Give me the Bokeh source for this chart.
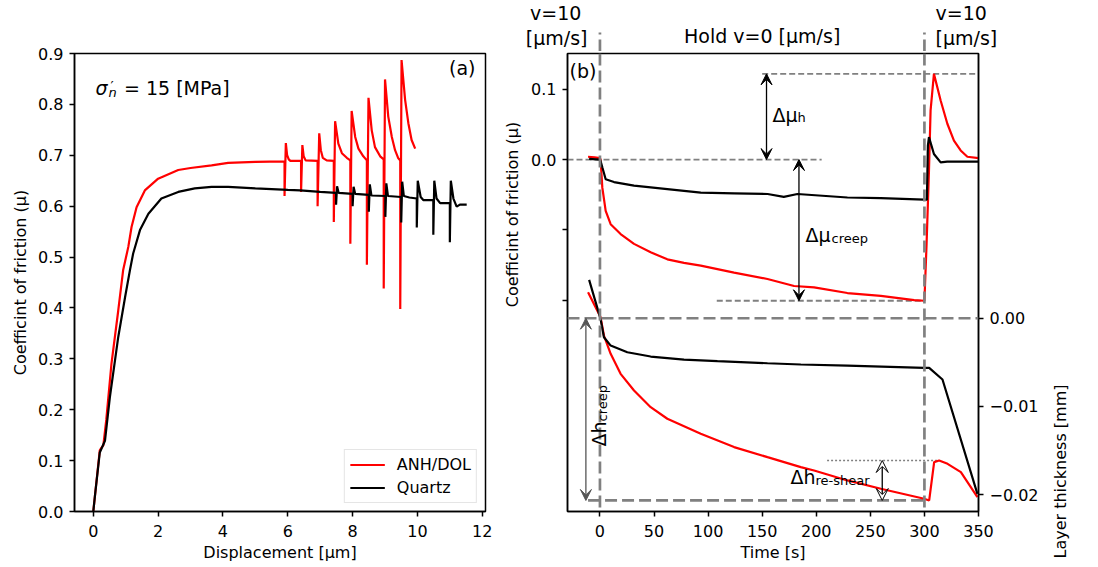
import math
from bokeh.plotting import figure
from bokeh.models import Range1d, LinearAxis, FixedTicker, Span, Label, Arrow, VeeHead
from bokeh.layouts import row, column
from bokeh.embed import file_html
from bokeh.resources import INLINE

FONT = "DejaVu Sans"
GRAY = "#808080"

# ---------------- panel (a): friction vs displacement ----------------
anh_disp = [0.0, 0.1, 0.2, 0.25, 0.31, 0.4, 0.56, 0.77, 0.92, 1.08, 1.18, 1.335, 1.59, 2.0, 2.62, 3.0, 3.65, 4.16, 5.0, 5.9,
            5.9, 5.94, 5.98, 6.03, 6.08, 6.41,
            6.41, 6.45, 6.49, 6.55, 6.92,
            6.92, 6.97, 7.02, 7.08, 7.2, 7.42,
            7.42, 7.46, 7.56, 7.67, 7.82, 7.93,
            7.93, 7.97, 8.08, 8.18, 8.33, 8.44,
            8.44, 8.49, 8.59, 8.69, 8.85, 8.96,
            8.96, 9.0, 9.1, 9.21, 9.31, 9.41, 9.47,
            9.47, 9.51, 9.62, 9.72, 9.82, 9.93]
anh_mu = [0.0, 0.06, 0.12, 0.125, 0.13, 0.18, 0.29, 0.395, 0.474, 0.52, 0.559, 0.598, 0.631, 0.654, 0.671, 0.675, 0.680, 0.685, 0.687, 0.688,
          0.620, 0.724, 0.700, 0.692, 0.689, 0.689,
          0.628, 0.720, 0.698, 0.690, 0.689,
          0.600, 0.743, 0.710, 0.695, 0.690, 0.689,
          0.569, 0.767, 0.723, 0.704, 0.695, 0.690,
          0.526, 0.787, 0.736, 0.713, 0.698, 0.690,
          0.485, 0.813, 0.749, 0.716, 0.698, 0.692,
          0.438, 0.849, 0.776, 0.736, 0.710, 0.694, 0.690,
          0.398, 0.887, 0.809, 0.763, 0.730, 0.713]

qtz_disp = [0.0, 0.05, 0.2, 0.36, 0.51, 0.77, 0.98, 1.13, 1.23, 1.44, 1.70, 2.1, 2.62, 3.13, 3.65, 4.16, 5.0, 6.0, 6.38, 7.0, 7.49,
            7.49, 7.52, 7.57, 8.0,
            8.0, 8.03, 8.08, 8.5,
            8.5, 8.53, 8.58, 9.01,
            9.01, 9.04, 9.09, 9.5,
            9.5, 9.53, 9.58, 9.75, 9.98,
            9.98, 10.01, 10.1, 10.18, 10.49,
            10.49, 10.52, 10.59, 10.7, 11.0,
            11.0, 11.03, 11.11, 11.21, 11.31, 11.52]
qtz_mu = [0.0, 0.03, 0.116, 0.139, 0.224, 0.343, 0.421, 0.474, 0.507, 0.553, 0.585, 0.615, 0.628, 0.635, 0.638, 0.638, 0.635, 0.632, 0.631, 0.628, 0.626,
          0.603, 0.639, 0.626, 0.624,
          0.600, 0.638, 0.624, 0.622,
          0.589, 0.643, 0.621, 0.620,
          0.579, 0.645, 0.620, 0.618,
          0.568, 0.648, 0.620, 0.617, 0.615,
          0.558, 0.650, 0.618, 0.612, 0.612,
          0.544, 0.650, 0.615, 0.606, 0.606,
          0.529, 0.650, 0.615, 0.599, 0.603, 0.603]

disp_ticks = [0, 2, 4, 6, 8, 10, 12]
mu_ticks_a = [0.0, 0.1, 0.2, 0.3, 0.4, 0.5, 0.6, 0.7, 0.8, 0.9]

# ---------------- panel (b): slide-hold-slide ----------------
hold_bounds = [0, 300]

t_mu_anh = [-11, -5, 0, 0.6, 2.2, 5.3, 9.9, 19.1, 31.5, 46.9, 62.3, 77.7, 93.2, 124, 154.9, 179.5, 198, 228.8, 259.7, 290.6,
            300, 302, 304.2, 305.7, 308.8, 315, 321.2, 327.3, 333.5, 339.7, 350]
dmu_anh = [0.004, 0.003, 0.002, 0.0, -0.040, -0.073, -0.092, -0.106, -0.120, -0.132, -0.142, -0.147, -0.151, -0.161, -0.170, -0.180, -0.182, -0.190, -0.194, -0.200,
           -0.201, -0.120, -0.016, 0.070, 0.122, 0.084, 0.051, 0.027, 0.013, 0.004, 0.002]

t_mu_qtz = [-10, 0, 0.6, 2.2, 5.3, 13, 31.5, 62.3, 93.2, 124, 155, 170, 182.6, 228.8, 259.7, 299.8,
            302.3, 303.2, 304.2, 308.8, 315, 321, 350]
dmu_qtz = [0.001, 0.0, -0.002, -0.011, -0.028, -0.032, -0.037, -0.042, -0.047, -0.048, -0.049, -0.053, -0.049, -0.054, -0.055, -0.057,
           -0.057, 0.020, 0.032, 0.008, -0.004, -0.003, -0.003]

t_h_anh = [-11, 0.6, 3.7, 9.9, 19.1, 31.5, 46.9, 62.3, 93.2, 124, 154.9, 185.7, 198, 228.8, 259.7, 299.8, 304.4, 309, 313.6, 321.4, 333.7, 349]
h_anh = [0.00294, 0.0001, -0.00196, -0.00403, -0.0063, -0.00819, -0.01008, -0.01139, -0.01309, -0.0146, -0.01574, -0.01687, -0.01725,
         -0.01838, -0.01932, -0.02045, -0.02065, -0.0163, -0.01612, -0.0165, -0.01744, -0.02027]

t_h_qtz = [-10, 0.6, 3.7, 9.9, 25.3, 46.9, 77.7, 108.6, 154.9, 185.7, 228.8, 299.8, 304.4, 316.7, 349]
h_qtz = [0.00435, -0.0001, -0.00215, -0.0031, -0.00385, -0.00434, -0.00468, -0.00487, -0.0051, -0.00524, -0.00536, -0.00562,
         -0.00562, -0.00694, -0.0199]

time_ticks = [0, 50, 100, 150, 200, 250, 300, 350]
mu_ticks_b = [-0.2, -0.1, 0.0, 0.1]
h_ticks = [-0.02, -0.01, 0.0]

phase_side_text = ["v=10\u00a0", "[\u00b5m/s]"]
phase_hold_text = "Hold v=0 [\u00b5m/s]"

mu_peak = max(dmu_anh)
mu_low = min(dmu_anh)
h_low = min(h_anh)
h_reshear = max(h for t, h in zip(t_h_anh, h_anh) if t > 305)

T_START, T_END = -30, 350
LB = 45        # left border of panel (b) and its strip
SHIFT = 7      # correction of the alphabetic-baseline placement


def style_axes(p):
    p.grid.visible = False
    p.outline_line_color = "black"
    p.outline_line_width = 1.5
    p.border_fill_color = "white"
    p.background_fill_color = "white"
    for ax in p.axis:
        ax.axis_line_width = 1.5
        ax.axis_line_color = "black"
        ax.major_tick_out = 5
        ax.major_tick_in = 0
        ax.major_tick_line_width = 1.5
        ax.minor_tick_out = 0
        ax.minor_tick_in = 0
        ax.major_label_standoff = 6
        ax.major_label_text_font = FONT
        ax.major_label_text_font_size = "16px"
        ax.major_label_text_color = "black"
        ax.axis_label_text_font = FONT
        ax.axis_label_text_font_size = "16px"
        ax.axis_label_text_font_style = "normal"
        ax.axis_label_text_color = "black"
        ax.axis_label_standoff = 3
    for ax in p.xaxis:
        ax.major_label_standoff = 8


def lab(p, text, dx, dy, size="19px", angle=0.0, align="left", style="normal", color="black"):
    # dx, dy: pixel offsets of the text baseline start from the frame's top-left corner (dy downwards)
    if angle:
        dx -= SHIFT
    else:
        dy -= SHIFT
    p.add_layout(Label(x=p.x_range.start, y=p.y_range.end, x_offset=dx, y_offset=-dy, text=text,
                       text_font=FONT, text_font_size=size, text_align=align, text_baseline="alphabetic",
                       text_font_style=style, text_color=color, angle=angle))


def blank(p):
    p.outline_line_color = None
    p.border_fill_color = "white"
    p.background_fill_color = "white"
    p.grid.visible = False


# ---------------- figure (a) ----------------
p1 = figure(frame_width=411, frame_height=458, min_border_left=74, min_border_right=15,
            min_border_top=53, min_border_bottom=48,
            x_range=Range1d(-0.58, 12.1), y_range=Range1d(0, 0.9),
            output_backend="svg", toolbar_location=None)
p1.line(anh_disp, anh_mu, line_color="#ff0000", line_width=2.2, legend_label="ANH/DOL")
p1.line(qtz_disp, qtz_mu, line_color="black", line_width=2.2, legend_label="Quartz")
style_axes(p1)
p1.xaxis.ticker = FixedTicker(ticks=disp_ticks)
p1.yaxis.ticker = FixedTicker(ticks=mu_ticks_a)
p1.yaxis.major_label_overrides = {t: f"{t:.1f}" for t in mu_ticks_a}
p1.xaxis.axis_label = "Displacement [\u03bcm]"
p1.yaxis.axis_label = "Coefficint of friction (\u03bc)"
p1.yaxis.axis_label_standoff = 5

lg = p1.legend[0]
lg.location = "bottom_right"
lg.margin = 8
lg.padding = 5
lg.spacing = 4
lg.glyph_width = 35
lg.glyph_height = 19
lg.label_height = 19
lg.label_standoff = 12
lg.label_text_font = FONT
lg.label_text_font_size = "16px"
lg.label_text_color = "black"
lg.border_line_color = "#cccccc"
lg.border_line_width = 1
lg.background_fill_alpha = 0.8

lab(p1, "(a)", 401, 21.5, align="right")
lab(p1, "\u03c3", 21, 41.5, style="italic")
lab(p1, "\u2032", 36, 39, size="14px")
lab(p1, "n", 34, 46, size="13px", style="italic")
lab(p1, "= 15 [MPa]", 49.5, 41.5)

# ---------------- strip left of (b): its friction axis title ----------------
pL = figure(frame_width=22, frame_height=560, min_border_left=0, min_border_right=0,
            min_border_top=0, min_border_bottom=0,
            x_range=Range1d(0, 22), y_range=Range1d(0, 560),
            x_axis_location=None, y_axis_location=None,
            output_backend="svg", toolbar_location=None)
blank(pL)
pL.add_layout(Label(x=11.5, y=560 - 161, text="Coefficint of friction (\u03bc)", text_font=FONT,
                    text_font_size="16px", text_align="center", text_baseline="middle",
                    angle=math.pi / 2, text_color="black"))

# ---------------- figure (b) ----------------
p2 = figure(frame_width=411, frame_height=458, min_border_left=LB, min_border_right=67,
            min_border_top=2, min_border_bottom=48,
            x_range=Range1d(T_START, T_END), y_range=Range1d(-0.501, 0.151),
            output_backend="svg", toolbar_location=None)
p2.extra_y_ranges = {"thick": Range1d(-0.0219, 0.0300)}
p2.add_layout(LinearAxis(y_range_name="thick"), "right")
style_axes(p2)
p2.xaxis.ticker = FixedTicker(ticks=time_ticks)
p2.xaxis.axis_label = "Time [s]"
left_ax = p2.yaxis[0]
right_ax = p2.yaxis[1]
left_ax.ticker = FixedTicker(ticks=mu_ticks_b)
left_ax.major_label_overrides = {-0.2: "", -0.1: "", 0.0: "0.0", 0.1: "0.1"}
right_ax.ticker = FixedTicker(ticks=h_ticks)
right_ax.major_label_overrides = {0.0: "0.00", -0.01: "\u22120.01", -0.02: "\u22120.02"}

# reference lines
for tb in hold_bounds:
    p2.add_layout(Span(location=tb, dimension="height", line_color=GRAY, line_width=2.7, line_dash="12 5"))
p2.add_layout(Span(location=0.0, dimension="width", y_range_name="thick", line_color=GRAY, line_width=2.7, line_dash="12 5"))
p2.line([150, 350], [mu_peak, mu_peak], line_color=GRAY, line_width=1.8, line_dash="6 3")
p2.line([-30, 205], [0.0, 0.0], line_color=GRAY, line_width=1.8, line_dash="6 3")
p2.line([108, 300], [mu_low, mu_low], line_color=GRAY, line_width=1.8, line_dash="6 3")
p2.line([-11, 303], [h_low, h_low], y_range_name="thick", line_color=GRAY, line_width=2.7, line_dash="12 5")
p2.line([210, 313], [h_reshear, h_reshear], y_range_name="thick", line_color=GRAY, line_width=1.6, line_dash="2 2")

# curves
p2.line(t_mu_anh, dmu_anh, line_color="#ff0000", line_width=2.2)
p2.line(t_mu_qtz, dmu_qtz, line_color="black", line_width=2.2)
p2.line(t_h_anh, h_anh, y_range_name="thick", line_color="#ff0000", line_width=2.2)
p2.line(t_h_qtz, h_qtz, y_range_name="thick", line_color="black", line_width=2.2)


def head(fill="black", color="black", size=11):
    return VeeHead(size=size, fill_color=fill, line_color=color, line_width=1)


p2.add_layout(Arrow(x_start=154, y_start=mu_peak, x_end=154, y_end=0.0, start=head(), end=head(),
                    line_color="black", line_width=1.3))
p2.add_layout(Arrow(x_start=184, y_start=0.0, x_end=184, y_end=mu_low, start=head(), end=head(),
                    line_color="black", line_width=1.3))
p2.add_layout(Arrow(x_start=-13, y_start=0.0, x_end=-13, y_end=h_low, y_range_name="thick",
                    start=head("#555555", "#555555"), end=head("#555555", "#555555"),
                    line_color="#555555", line_width=1.3))
p2.add_layout(Arrow(x_start=261, y_start=h_reshear, x_end=261, y_end=h_low, y_range_name="thick",
                    start=head("white", "black", 12), end=head("white", "black", 12),
                    line_color="black", line_width=1.3))

# texts inside the frame
lab(p2, "(b)", 2, 24)
lab(p2, "\u0394\u03bc", 205, 68.7)
lab(p2, "h", 230, 71, size="13px")
lab(p2, "\u0394\u03bc", 238, 188.7)
lab(p2, "creep", 264, 192, size="13px")
lab(p2, "\u0394h", 38, 393, angle=math.pi / 2)
lab(p2, "creep", 42, 368, size="13px", angle=math.pi / 2)
lab(p2, "\u0394h", 223, 430)
lab(p2, "re-shear", 248, 434, size="13px")

# ---------------- strip above (b): phase labels ----------------
# frame aligned with (b); the two velocity labels are the tick labels of two bare axes
p0 = figure(frame_width=411, frame_height=51, min_border_left=LB, min_border_right=67,
            min_border_top=0, min_border_bottom=0,
            x_range=p2.x_range, y_range=Range1d(0, 51),
            x_axis_location=None, y_axis_location="left",
            output_backend="svg", toolbar_location=None)
p0.add_layout(LinearAxis(), "right")
blank(p0)
side_ticks = [38.5, 14.0]   # vertical centres of the two text lines (px from bottom of strip)
for ax, standoff in ((p0.yaxis[0], -20), (p0.yaxis[1], -43)):
    ax.ticker = FixedTicker(ticks=side_ticks)
    ax.major_label_overrides = {side_ticks[0]: phase_side_text[0], side_ticks[1]: phase_side_text[1]}
    ax.axis_line_color = None
    ax.major_tick_line_color = None
    ax.minor_tick_line_color = None
    ax.major_tick_out = 0
    ax.major_tick_in = 0
    ax.major_label_standoff = standoff
    ax.major_label_text_font = FONT
    ax.major_label_text_font_size = "19px"
    ax.major_label_text_color = "black"
p0.segment(x0=hold_bounds, y0=[0, 0], x1=hold_bounds, y1=[19, 19], line_color=GRAY, line_width=2.7, line_dash="12 5")
p0.add_layout(Label(x=(hold_bounds[0] + hold_bounds[1]) / 2, y=8.5 + SHIFT, text=phase_hold_text, text_font=FONT,
                    text_font_size="19px", text_align="center", text_baseline="alphabetic", text_color="black"))

# ---------------- strip right of (b): thickness axis title ----------------
pR = figure(frame_width=40, frame_height=560, min_border_left=0, min_border_right=0,
            min_border_top=0, min_border_bottom=0,
            x_range=Range1d(0, 40), y_range=Range1d(0, 560),
            x_axis_location=None, y_axis_location=None,
            output_backend="svg", toolbar_location=None)
blank(pR)
pR.add_layout(Label(x=15, y=560 - 418, text="Layer thickness [mm]", text_font=FONT,
                    text_font_size="16px", text_align="center", text_baseline="middle",
                    angle=math.pi / 2, text_color="black"))

layout = row(p1, pL, column(p0, p2), pR)
open("out.html", "w").write(file_html(layout, INLINE))
